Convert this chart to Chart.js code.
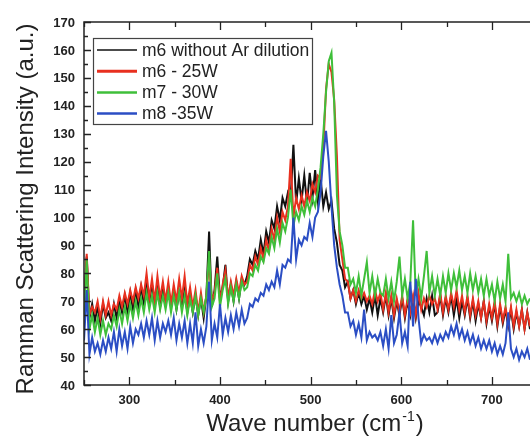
<!DOCTYPE html>
<html>
<head>
<meta charset="utf-8">
<script src="https://cdn.jsdelivr.net/npm/chart.js@4.4.1/dist/chart.umd.min.js"></script>
<style>
  body { margin: 0; background: #fff; }
  canvas { display: block; }
</style>
</head>
<body>
<canvas id="raman" width="530" height="436"></canvas>
<script>
// wave numbers (cm-1), one spectrum point every 3 cm-1
const waveNumbers = [
  250, 253, 256, 259, 262, 265, 268, 271, 274, 277,
  280, 283, 286, 289, 292, 295, 298, 301, 304, 307,
  310, 313, 316, 319, 322, 325, 328, 331, 334, 337,
  340, 343, 346, 349, 352, 355, 358, 361, 364, 367,
  370, 373, 376, 379, 382, 385, 388, 391, 394, 397,
  400, 403, 406, 409, 412, 415, 418, 421, 424, 427,
  430, 433, 436, 439, 442, 445, 448, 451, 454, 457,
  460, 463, 466, 469, 472, 475, 478, 481, 484, 487,
  490, 493, 496, 499, 502, 505, 508, 511, 514, 517,
  520, 523, 526, 529, 532, 535, 538, 541, 544, 547,
  550, 553, 556, 559, 562, 565, 568, 571, 574, 577,
  580, 583, 586, 589, 592, 595, 598, 601, 604, 607,
  610, 613, 616, 619, 622, 625, 628, 631, 634, 637,
  640, 643, 646, 649, 652, 655, 658, 661, 664, 667,
  670, 673, 676, 679, 682, 685, 688, 691, 694, 697,
  700, 703, 706, 709, 712, 715, 718, 721, 724, 727,
  730, 733, 736, 739, 742
];

const m6NoAr = [
  67, 86, 64, 69, 63, 68, 62, 69, 64, 66,
  63, 69, 64, 70, 66, 72, 66, 73, 67, 74,
  68, 75, 69, 77, 70, 76, 69, 75, 68, 74,
  69, 75, 68, 74, 67, 73, 68, 74, 66, 72,
  66, 72, 65, 71, 64, 72, 95, 68, 74, 86,
  71, 75, 83, 70, 76, 70, 77, 71, 78, 76,
  79, 85, 83, 88, 85, 92, 87, 95, 91, 99,
  96, 104, 99, 107, 104, 109, 107, 126, 105, 114,
  106, 115, 105, 116, 107, 117, 106, 114, 104, 109,
  103, 106, 96, 91, 83, 81, 75, 77, 71, 74,
  69, 73, 69, 72, 67, 71, 66, 72, 65, 71,
  66, 72, 65, 71, 64, 70, 65, 71, 64, 70,
  65, 71, 64, 70, 68, 65, 71, 66, 72, 65,
  66, 72, 65, 71, 66, 72, 65, 71, 64, 70,
  65, 71, 64, 70, 63, 69, 64, 70, 62, 68,
  63, 69, 61, 68, 62, 67, 61, 67, 60, 66,
  61, 67, 60, 66, 60
];

const m6_25W = [
  69, 87, 65, 68, 66, 70, 64, 70, 65, 70,
  65, 69, 67, 72, 68, 73, 69, 74, 70, 75,
  71, 76, 72, 80, 71, 78, 70, 79, 71, 77,
  70, 77, 69, 76, 70, 78, 71, 79, 69, 75,
  68, 74, 66, 73, 66, 72, 85, 70, 73, 82,
  70, 76, 81, 71, 77, 72, 78, 73, 79, 76,
  77, 83, 81, 86, 83, 89, 85, 92, 88, 96,
  92, 100, 95, 102, 99, 104, 121, 100, 107, 103,
  108, 104, 109, 106, 112, 109, 115, 114, 125, 146,
  155, 152, 142, 122, 92, 85, 78, 77, 71, 74,
  70, 74, 71, 73, 70, 72, 69, 74, 70, 73,
  67, 73, 66, 72, 65, 71, 66, 72, 65, 71,
  66, 72, 65, 73, 67, 71, 68, 72, 69, 71,
  67, 73, 66, 72, 67, 73, 68, 74, 67, 72,
  66, 72, 65, 71, 65, 70, 64, 70, 63, 69,
  64, 70, 62, 69, 63, 68, 62, 68, 61, 67,
  61, 67, 60, 66, 61
];

const m7_30W = [
  64, 85, 60, 65, 59, 64, 58, 63, 58, 62,
  60, 65, 61, 67, 62, 68, 63, 69, 64, 70,
  65, 71, 66, 73, 67, 72, 66, 73, 67, 72,
  67, 73, 66, 72, 67, 73, 66, 72, 65, 71,
  66, 72, 65, 71, 66, 72, 88, 68, 71, 80,
  68, 74, 78, 69, 75, 70, 76, 71, 77, 74,
  75, 80, 79, 83, 81, 86, 84, 89, 87, 93,
  89, 96, 91, 98, 95, 100, 110, 97, 102, 99,
  104, 101, 106, 102, 107, 104, 110, 118, 130, 145,
  156, 159, 141, 108, 95, 90, 82, 82, 76, 78,
  73, 79, 72, 78, 84, 73, 79, 72, 78, 73,
  72, 78, 71, 77, 70, 77, 86, 72, 78, 71,
  77, 99, 72, 78, 71, 79, 88, 73, 79, 72,
  78, 72, 79, 73, 80, 74, 80, 75, 81, 74,
  79, 73, 80, 74, 79, 73, 78, 72, 78, 72,
  76, 70, 77, 71, 76, 70, 87, 71, 73, 70,
  73, 69, 72, 69, 71
];

const m8_35W = [
  56, 74, 51, 57, 52, 55, 51, 56, 52, 57,
  53, 59, 52, 60, 54, 59, 53, 61, 55, 60,
  58, 62, 57, 63, 58, 64, 56, 63, 57, 62,
  59, 63, 58, 64, 56, 62, 57, 63, 55, 62,
  55, 66, 54, 60, 55, 61, 77, 56, 62, 57,
  69, 58, 64, 59, 65, 60, 66, 61, 67, 62,
  64, 69, 68, 71, 70, 73, 72, 76, 74, 77,
  75, 81, 76, 83, 82, 85, 84, 100, 85, 92,
  90, 93, 92, 98, 93, 100, 102, 109, 122, 131,
  120, 104, 90, 82, 76, 72, 66, 66, 61, 63,
  58, 62, 57, 67, 56, 59, 57, 58, 56, 59,
  54, 60, 53, 65, 55, 58, 66, 55, 59, 54,
  77, 61, 78, 64, 55, 58, 56, 57, 55, 58,
  55, 58, 56, 59, 57, 61, 58, 62, 57, 60,
  56, 59, 55, 58, 54, 57, 53, 56, 53, 56,
  52, 55, 51, 54, 51, 55, 66, 53, 50, 53,
  49, 52, 50, 53, 49
];

const seriesNames = ['m6 without Ar dilution', 'm6 - 25W', 'm7 - 30W', 'm8 -35W'];
const seriesColors = ['#111111', '#e8301f', '#3fbf3a', '#2b4ec4'];
const xTicks = [300, 400, 500, 600, 700];
const xMinor = [250, 350, 450, 550, 650];
const yTicks = [40, 50, 60, 70, 80, 90, 100, 110, 120, 130, 140, 150, 160, 170];

const toPoints = ys => waveNumbers.map((x, i) => ({ x: x, y: ys[i] }));
const allSeries = [m6NoAr, m6_25W, m7_30W, m8_35W];

// frame, inward ticks, labels, titles and boxed legend
const framePlugin = {
  id: 'frame',
  afterDraw(chart) {
    const ctx = chart.ctx;
    const a = chart.chartArea;
    const xs = chart.scales.x, ys = chart.scales.y;
    ctx.save();
    ctx.strokeStyle = '#222';
    ctx.lineWidth = 1.5;
    ctx.beginPath();
    ctx.moveTo(a.right + 2, a.top); ctx.lineTo(a.left, a.top);
    ctx.lineTo(a.left, a.bottom); ctx.lineTo(a.right + 2, a.bottom);
    ctx.stroke();

    ctx.lineWidth = 1.3;
    ctx.beginPath();
    xTicks.concat(xMinor).forEach(v => {
      const len = xTicks.includes(v) ? 8 : 5;
      const px = Math.round(xs.getPixelForValue(v)) + 0.5;
      ctx.moveTo(px, a.bottom); ctx.lineTo(px, a.bottom - len);
      ctx.moveTo(px, a.top); ctx.lineTo(px, a.top + len);
    });
    yTicks.forEach(v => {
      const py = Math.round(ys.getPixelForValue(v)) + 0.5;
      ctx.moveTo(a.left, py); ctx.lineTo(a.left + 7, py);
      if (v < 170) {
        const pm = Math.round(ys.getPixelForValue(v + 5)) + 0.5;
        ctx.moveTo(a.left, pm); ctx.lineTo(a.left + 4, pm);
      }
    });
    ctx.stroke();

    ctx.fillStyle = '#222';
    ctx.font = 'bold 13px "Liberation Sans", Arial, sans-serif';
    ctx.textAlign = 'right';
    ctx.textBaseline = 'middle';
    yTicks.forEach(v => ctx.fillText(String(v), 75, ys.getPixelForValue(v) + 1));
    ctx.textAlign = 'center';
    xTicks.forEach(v => ctx.fillText(String(v), xs.getPixelForValue(v), 400));

    // axis titles
    ctx.font = '24px "Liberation Sans", Arial, sans-serif';
    ctx.textBaseline = 'alphabetic';
    ctx.save();
    ctx.translate(33, 209);
    ctx.rotate(-Math.PI / 2);
    ctx.textAlign = 'center';
    ctx.fillText('Ramman Scattering Intensity (a.u.)', 0, 0);
    ctx.restore();

    const t1 = 'Wave number (cm', sup = '-1', t2 = ')';
    const w1 = ctx.measureText(t1).width, w3 = ctx.measureText(t2).width;
    ctx.font = '14px "Liberation Sans", Arial, sans-serif';
    const w2 = ctx.measureText(sup).width;
    let tx = 314 - (w1 + w2 + w3) / 2;
    ctx.textAlign = 'left';
    ctx.font = '24px "Liberation Sans", Arial, sans-serif';
    ctx.fillText(t1, tx, 431);
    ctx.font = '14px "Liberation Sans", Arial, sans-serif';
    ctx.fillText(sup, tx + w1 + 1, 421);
    ctx.font = '24px "Liberation Sans", Arial, sans-serif';
    ctx.fillText(t2, tx + w1 + w2 + 2, 431);

    // legend
    ctx.fillStyle = '#fff';
    ctx.fillRect(93, 38, 219, 86);
    ctx.strokeStyle = '#444';
    ctx.lineWidth = 1.2;
    ctx.strokeRect(93.5, 38.5, 219, 86);
    ctx.font = '17.5px "Liberation Sans", Arial, sans-serif';
    ctx.textBaseline = 'middle';
    const widths = [1.5, 3, 2.5, 2.5];
    seriesNames.forEach((name, i) => {
      const y = 50 + i * 21.2;
      ctx.strokeStyle = seriesColors[i];
      ctx.lineWidth = widths[i];
      ctx.beginPath();
      ctx.moveTo(97, y); ctx.lineTo(137, y);
      ctx.stroke();
      ctx.fillStyle = '#222';
      ctx.fillText(name, 142, y + 1);
    });
    ctx.restore();
  }
};

new Chart(document.getElementById('raman'), {
  type: 'line',
  data: {
    datasets: allSeries.map((ys, i) => ({
      label: seriesNames[i],
      data: toPoints(ys),
      borderColor: seriesColors[i],
      borderWidth: 2,
      pointRadius: 0,
      tension: 0,
      order: 4 - i
    }))
  },
  options: {
    responsive: false,
    animation: false,
    devicePixelRatio: 1,
    layout: { padding: { left: 84, top: 22, right: 0, bottom: 51 } },
    plugins: { legend: { display: false }, tooltip: { enabled: false } },
    scales: {
      x: { type: 'linear', min: 250, max: 742, display: false },
      y: { min: 40, max: 170, display: false }
    }
  },
  plugins: [framePlugin]
});
</script>
</body>
</html>
